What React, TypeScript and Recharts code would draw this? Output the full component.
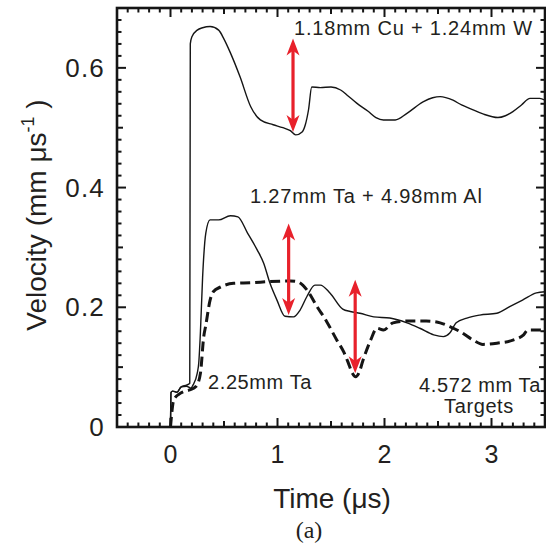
import React from 'react';
import { LineChart, Line, XAxis, YAxis, ReferenceLine } from 'recharts';

// ---- Data ----
// 1.18mm Cu + 1.24mm W (thin solid)
const cuW_t = [0, 0.005, 0.02, 0.06, 0.1, 0.15, 0.18, 0.185, 0.2, 0.25, 0.3, 0.37, 0.45, 0.5, 0.56, 0.65, 0.75, 0.84, 0.96, 1.05, 1.12, 1.17, 1.23, 1.26, 1.29, 1.32, 1.4, 1.5, 1.59, 1.66, 1.74, 1.85, 1.92, 1.99, 2.1, 2.21, 2.36, 2.45, 2.52, 2.64, 2.72, 2.8, 2.92, 3.06, 3.13, 3.2, 3.28, 3.36, 3.45, 3.5];
const cuW_v = [0, 0.058, 0.06, 0.058, 0.067, 0.07, 0.073, 0.64, 0.652, 0.663, 0.667, 0.669, 0.663, 0.648, 0.625, 0.585, 0.535, 0.513, 0.505, 0.5, 0.495, 0.488, 0.493, 0.505, 0.53, 0.568, 0.567, 0.568, 0.563, 0.553, 0.541, 0.527, 0.517, 0.513, 0.513, 0.524, 0.543, 0.55, 0.552, 0.546, 0.538, 0.532, 0.523, 0.517, 0.52, 0.527, 0.538, 0.549, 0.549, 0.546];

// 1.27mm Ta + 4.98mm Al (thin solid)
const taAl_t = [0, 0.005, 0.02, 0.06, 0.1, 0.15, 0.19, 0.21, 0.25, 0.264, 0.28, 0.3, 0.33, 0.37, 0.45, 0.56, 0.63, 0.72, 0.81, 0.87, 0.93, 0.995, 1.07, 1.15, 1.21, 1.275, 1.35, 1.4, 1.49, 1.61, 1.68, 1.77, 1.9, 2.05, 2.21, 2.33, 2.46, 2.55, 2.61, 2.67, 2.77, 2.89, 3.05, 3.17, 3.29, 3.42, 3.5];
const taAl_v = [0, 0.058, 0.06, 0.058, 0.067, 0.068, 0.065, 0.07, 0.09, 0.107, 0.16, 0.25, 0.324, 0.346, 0.346, 0.353, 0.351, 0.324, 0.296, 0.274, 0.24, 0.212, 0.185, 0.184, 0.195, 0.218, 0.237, 0.237, 0.224, 0.197, 0.193, 0.19, 0.184, 0.182, 0.174, 0.165, 0.154, 0.151, 0.157, 0.174, 0.182, 0.187, 0.19, 0.201, 0.212, 0.224, 0.226];

// 2.25mm Ta (dashed)
const ta_t = [0, 0.01, 0.03, 0.08, 0.12, 0.18, 0.24, 0.28, 0.31, 0.33, 0.37, 0.4, 0.47, 0.59, 0.75, 0.93, 1.12, 1.18, 1.275, 1.37, 1.46, 1.555, 1.62, 1.66, 1.7, 1.73, 1.76, 1.8, 1.87, 1.93, 1.99, 2.08, 2.21, 2.39, 2.52, 2.62, 2.71, 2.83, 2.92, 3.05, 3.2, 3.3, 3.34, 3.5];
const ta_v = [0, 0.02, 0.045, 0.055, 0.059, 0.062, 0.068, 0.09, 0.15, 0.17, 0.212, 0.226, 0.234, 0.24, 0.241, 0.243, 0.244, 0.243, 0.229, 0.201, 0.176, 0.145, 0.125, 0.108, 0.09, 0.084, 0.09, 0.112, 0.145, 0.165, 0.162, 0.174, 0.177, 0.177, 0.174, 0.167, 0.159, 0.145, 0.138, 0.14, 0.145, 0.154, 0.162, 0.162];

// Red double-headed arrows
const arrowX = [1.145, 1.104, 1.726];
const arrowTop = [0.649, 0.34, 0.246];
const arrowBottom = [0.493, 0.187, 0.09];

// Axis ticks
const xDomain = [-0.5, 3.5];
const yDomain = [0, 0.7];
const xMajorTicks = [0, 1, 2, 3];
const xTickLabels = ['0', '1', '2', '3'];
const yMajorTicks = [0, 0.2, 0.4, 0.6];
const yTickLabels = ['0', '0.2', '0.4', '0.6'];

const xAllTicks: number[] = [];
for (let i = -5; i <= 35; i++) xAllTicks.push(i / 10);
const yAllTicks: number[] = [];
for (let i = 0; i <= 35; i++) yAllTicks.push(i / 50);

const zip = (t: number[], v: number[]) => t.map((x, i) => ({ t: x, v: v[i] }));
const cuWData = zip(cuW_t, cuW_v);
const taAlData = zip(taAl_t, taAl_v);
const taData = zip(ta_t, ta_v);

const FONT = "'Liberation Sans', Arial, Helvetica, sans-serif";
const INK = '#151515';
const TXT = '#231f20';
const RED = '#e8212b';

const near = (a: number, b: number) => Math.abs(a - b) < 1e-6;
const isMult = (v: number, s: number) => near(v / s, Math.round(v / s));

const xLen = (v: number) => (isMult(v, 1) ? 9 : isMult(v, 0.5) ? 6 : 4.5);
const yLen = (v: number) => (isMult(v, 0.2) ? 9 : isMult(v, 0.1) ? 6 : 4.5);

const ok = (...n: any[]) => n.every((k) => typeof k === 'number' && !isNaN(k));

const BottomLabel = (p: any) => {
  const { x, y, payload } = p;
  const idx = xMajorTicks.findIndex((m) => near(m, payload.value));
  if (idx < 0) return <g />;
  return (
    <text x={x} y={y + 36} textAnchor="middle" fontSize={25} fontFamily={FONT} fill={TXT}>
      {xTickLabels[idx]}
    </text>
  );
};
const LeftLabel = (p: any) => {
  const { x, y, payload } = p;
  const idx = yMajorTicks.findIndex((m) => near(m, payload.value));
  if (idx < 0) return <g />;
  return (
    <text x={x - 12} y={y + 9} textAnchor="end" fontSize={26} letterSpacing={1.2} fontFamily={FONT} fill={TXT}>
      {yTickLabels[idx]}
    </text>
  );
};

const makeXTickShape = (v: number) => (p: any) => {
  const { x1, y1, x2, y2 } = p;
  if (!ok(x1, y1, x2, y2)) return <g />;
  const L = xLen(v);
  const yb = Math.max(y1, y2);
  const yt = Math.min(y1, y2);
  return (
    <g>
      <line x1={x1} x2={x1} y1={yb} y2={yb - L} stroke={INK} strokeWidth={2} />
      <line x1={x1} x2={x1} y1={yt} y2={yt + L} stroke={INK} strokeWidth={2} />
    </g>
  );
};
const makeYTickShape = (v: number) => (p: any) => {
  const { x1, y1, x2, y2 } = p;
  if (!ok(x1, y1, x2, y2)) return <g />;
  const L = yLen(v);
  const xl = Math.min(x1, x2);
  const xr = Math.max(x1, x2);
  return (
    <g>
      <line x1={xl} x2={xl + L} y1={y1} y2={y1} stroke={INK} strokeWidth={2} />
      <line x1={xr} x2={xr - L} y1={y1} y2={y1} stroke={INK} strokeWidth={2} />
    </g>
  );
};
const FrameShape = (p: any) => {
  const { x1, y1, x2, y2 } = p;
  if (!ok(x1, y1, x2, y2)) return <g />;
  return (
    <rect
      x={Math.min(x1, x2)}
      y={Math.min(y1, y2)}
      width={Math.abs(x2 - x1)}
      height={Math.abs(y2 - y1)}
      fill="none"
      stroke={INK}
      strokeWidth={2.6}
    />
  );
};

const ArrowShape = (p: any) => {
  const { x1, y1, x2, y2 } = p;
  if (!ok(x1, y1, x2, y2)) return <g />;
  const dx = x2 - x1;
  const dy = y2 - y1;
  const len = Math.sqrt(dx * dx + dy * dy) || 1;
  const ux = dx / len;
  const uy = dy / len;
  const nx = -uy;
  const ny = ux;
  const L = 17;
  const Wd = 6.5;
  const head = (tx: number, ty: number, dirx: number, diry: number) => {
    const bx = tx - dirx * L;
    const by = ty - diry * L;
    const mx = tx - dirx * L * 0.72;
    const my = ty - diry * L * 0.72;
    return `${tx},${ty} ${bx + nx * Wd},${by + ny * Wd} ${mx},${my} ${bx - nx * Wd},${by - ny * Wd}`;
  };
  return (
    <g>
      <line
        x1={x1 + ux * L * 0.7}
        y1={y1 + uy * L * 0.7}
        x2={x2 - ux * L * 0.7}
        y2={y2 - uy * L * 0.7}
        stroke={RED}
        strokeWidth={3.2}
      />
      <polygon points={head(x1, y1, -ux, -uy)} fill={RED} />
      <polygon points={head(x2, y2, ux, uy)} fill={RED} />
    </g>
  );
};

export default function App() {
  return (
    <div style={{ position: 'absolute', left: 0, top: 0, width: 546, height: 546, background: '#fff' }}>
      <LineChart
        width={546}
        height={546}
        margin={{ top: 8, right: 1, bottom: 0, left: 0 }}
        style={{ position: 'absolute', left: 0, top: 0 }}
      >
        <XAxis
          dataKey="t"
          type="number"
          domain={xDomain}
          ticks={xAllTicks}
          interval={0}
          allowDataOverflow
          height={119}
          tickSize={0}
          tickMargin={0}
          tickLine={false}
          axisLine={false}
          tick={<BottomLabel />}
        />
        <YAxis
          type="number"
          domain={yDomain}
          ticks={yAllTicks}
          interval={0}
          allowDataOverflow
          width={117}
          tickSize={0}
          tickMargin={0}
          tickLine={false}
          axisLine={false}
          tick={<LeftLabel />}
        />
        {xAllTicks.map((v) => (
          <ReferenceLine
            key={'xt' + v}
            segment={[
              { x: v, y: yDomain[0] },
              { x: v, y: yDomain[1] },
            ]}
            shape={makeXTickShape(v)}
            ifOverflow="visible"
          />
        ))}
        {yAllTicks.map((v) => (
          <ReferenceLine
            key={'yt' + v}
            segment={[
              { x: xDomain[0], y: v },
              { x: xDomain[1], y: v },
            ]}
            shape={makeYTickShape(v)}
            ifOverflow="visible"
          />
        ))}
        <Line
          data={taData}
          dataKey="v"
          type="monotone"
          dot={false}
          activeDot={false}
          stroke={INK}
          strokeWidth={3}
          strokeDasharray="10 5"
          isAnimationActive={false}
        />
        <Line
          data={taAlData}
          dataKey="v"
          type="monotone"
          dot={false}
          activeDot={false}
          stroke={INK}
          strokeWidth={1.4}
          isAnimationActive={false}
        />
        <Line
          data={cuWData}
          dataKey="v"
          type="monotone"
          dot={false}
          activeDot={false}
          stroke={INK}
          strokeWidth={1.4}
          isAnimationActive={false}
        />
        {arrowX.map((ax, i) => (
          <ReferenceLine
            key={'ar' + i}
            segment={[
              { x: ax, y: arrowTop[i] },
              { x: ax, y: arrowBottom[i] },
            ]}
            shape={ArrowShape}
            ifOverflow="visible"
          />
        ))}
        <ReferenceLine
          segment={[
            { x: xDomain[0], y: yDomain[0] },
            { x: xDomain[1], y: yDomain[1] },
          ]}
          shape={FrameShape}
          ifOverflow="visible"
        />
      </LineChart>
      <svg
        width={546}
        height={546}
        style={{ position: 'absolute', left: 0, top: 0, pointerEvents: 'none' }}
      >
        <g fontFamily={FONT} fill={TXT}>
          <text x={294} y={35} fontSize={20} letterSpacing={0.8}>1.18mm Cu + 1.24mm W</text>
          <text x={250} y={203} fontSize={20} letterSpacing={0.8}>1.27mm Ta + 4.98mm Al</text>
          <text x={208} y={389} fontSize={20} letterSpacing={0.6}>2.25mm Ta</text>
          <text x={480} y={392} fontSize={20} letterSpacing={0.6} textAnchor="middle">4.572 mm Ta</text>
          <text x={479} y={413} fontSize={20} letterSpacing={0.6} textAnchor="middle">Targets</text>
          <text x={332} y={508} fontSize={28} textAnchor="middle">Time (μs)</text>
          <text x={46} y={215} fontSize={28} textAnchor="middle" transform="rotate(-90 46 215)">
            Velocity (mm μs
            <tspan fontSize={18} dy={-12}>-1</tspan>
            <tspan dy={12}> )</tspan>
          </text>
        </g>
        <text x={309} y={538} fontSize={24} textAnchor="middle" fontFamily="'Liberation Serif', 'Times New Roman', serif" fill={TXT}>
          (a)
        </text>
      </svg>
    </div>
  );
}
